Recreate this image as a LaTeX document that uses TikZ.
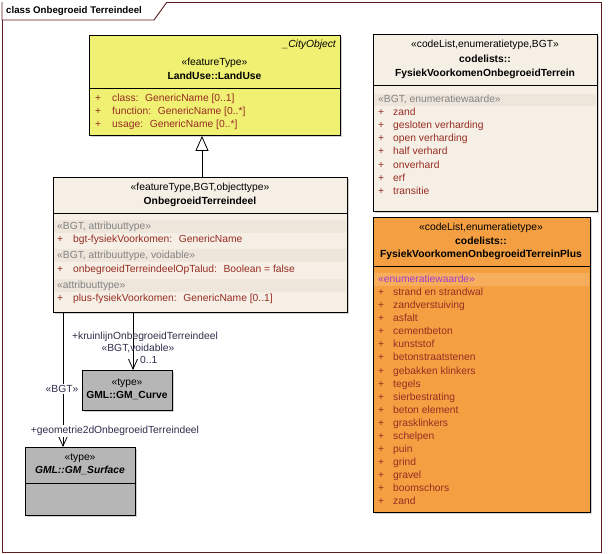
\documentclass[tikz,border=0pt]{standalone}
\usepackage{fontspec}
\setmainfont{Liberation Sans}
\usetikzlibrary{arrows.meta,shadows}
\definecolor{framec}{RGB}{95,30,30}
\definecolor{yel}{RGB}{240,240,115}
\definecolor{beige}{RGB}{246,239,229}
\definecolor{beigeband}{RGB}{238,230,219}
\definecolor{orng}{RGB}{244,160,66}
\definecolor{orngband}{RGB}{247,174,92}
\definecolor{grayb}{RGB}{182,182,182}
\definecolor{attr}{RGB}{150,45,35}
\definecolor{stereo}{RGB}{130,130,130}
\definecolor{purp}{RGB}{165,60,205}
\definecolor{lbl}{RGB}{45,45,75}
\tikzset{
  box/.style={draw=black, line width=0.9pt, inner sep=0pt, anchor=north west,
    drop shadow={shadow xshift=2pt, shadow yshift=-2pt, fill=black!30, opacity=0.6}},
  txt/.style={inner sep=0pt, anchor=mid, font=\fontsize{10.3}{12}\selectfont},
  btxt/.style={txt, font=\fontsize{10.3}{12}\selectfont\bfseries},
  ltxt/.style={txt, anchor=mid west},
  attrtxt/.style={ltxt, text=attr},
  sttxt/.style={ltxt, text=stereo},
  lbltxt/.style={txt, text=lbl},
  conn/.style={line width=0.8pt, black},
}
\begin{document}
\begin{tikzpicture}[x=1pt,y=-1pt]
\useasboundingbox (0,0) rectangle (608,554);
% frame
\node[draw=framec, line width=0.9pt, inner sep=0pt, anchor=north west, minimum width=599pt, minimum height=550pt] (frame) at (2,2) {};
\draw[draw=framec, line width=0.9pt, fill=white] (2,2) -- (2,20) -- (154,20) -- (167,2);
\node[txt, anchor=mid west, font=\fontsize{9.7}{12}\selectfont\bfseries] (title) at (6,11) {class Onbegroeid Terreindeel};

% LandUse
\node[box, fill=yel, minimum width=251pt, minimum height=100pt] (landuse) at (89,35) {};
\draw[line width=0.9pt] (89,88) -- (340,88);
\node[txt, anchor=mid east, font=\fontsize{10.3}{12}\selectfont\itshape] (lu0) at (336,45) {\_CityObject};
\node[txt] (lu1) at (214.5,63) {«featureType»};
\node[btxt] (lu2) at (214.5,77) {LandUse::LandUse};
\node[attrtxt] (lup1) at (95,99) {+};
\node[attrtxt] (lua1) at (112,99) {class:~ GenericName [0..1]};
\node[attrtxt] (lup2) at (95,112) {+};
\node[attrtxt] (lua2) at (112,112) {function:~ GenericName [0..*]};
\node[attrtxt] (lup3) at (95,125) {+};
\node[attrtxt] (lua3) at (112,125) {usage:~ GenericName [0..*]};

% OnbegroeidTerreindeel
\node[box, fill=beige, minimum width=294pt, minimum height=135pt] (onb) at (53,177) {};
\fill[beigeband] (54,220) rectangle (346,233);
\fill[beigeband] (54,249) rectangle (346,262);
\fill[beigeband] (54,279) rectangle (346,292);
\draw[line width=0.9pt] (53,213) -- (347,213);
\node[txt] (on1) at (200,188) {«featureType,BGT,objecttype»};
\node[btxt] (on2) at (200,202) {OnbegroeidTerreindeel};
\node[sttxt] (ons1) at (57,227) {«BGT, attribuuttype»};
\node[attrtxt] (onp1) at (57,240) {+};
\node[attrtxt] (ona1) at (73,240) {bgt-fysiekVoorkomen:~ GenericName};
\node[sttxt] (ons2) at (57,256) {«BGT, attribuuttype, voidable»};
\node[attrtxt] (onp2) at (57,270) {+};
\node[attrtxt] (ona2) at (73,270) {onbegroeidTerreindeelOpTalud:~ Boolean = false};
\node[sttxt] (ons3) at (57,286) {«attribuuttype»};
\node[attrtxt] (onp3) at (57,299) {+};
\node[attrtxt] (ona3) at (73,299) {plus-fysiekVoorkomen:~ GenericName [0..1]};

% top right code list
\node[box, fill=beige, minimum width=224pt, minimum height=177pt] (cl1) at (373,34) {};
\fill[beigeband] (374,94) rectangle (596,106);
\draw[line width=0.9pt] (373,85) -- (597,85);
\node[txt] (c1h1) at (485,45) {«codeList,enumeratietype,BGT»};
\node[btxt] (c1h2) at (485,60) {codelists::};
\node[btxt] (c1h3) at (485,74) {FysiekVoorkomenOnbegroeidTerrein};
\node[sttxt] (c1s) at (378,100) {«BGT, enumeratiewaarde»};
\foreach \t [count=\i] in {zand, gesloten verharding, open verharding, half verhard, onverhard, erf, transitie}{
  \node[attrtxt] (c1p\i) at (378,{113+13.1*(\i-1)}) {+};
  \node[attrtxt] (c1i\i) at (393,{113+13.1*(\i-1)}) {\t};
}

% bottom right code list (orange)
\node[box, fill=orng, minimum width=217pt, minimum height=295pt] (cl2) at (373,217) {};
\fill[orngband] (374,273) rectangle (589,286);
\draw[line width=0.9pt] (373,266) -- (590,266);
\node[txt] (c2h1) at (481,228) {«codeList,enumeratietype»};
\node[btxt] (c2h2) at (481,242) {codelists::};
\node[btxt] (c2h3) at (481,255) {FysiekVoorkomenOnbegroeidTerreinPlus};
\node[ltxt, text=purp] (c2s) at (378,280) {«enumeratiewaarde»};
\foreach \t [count=\i] in {strand en strandwal, zandverstuiving, asfalt, cementbeton, kunststof, betonstraatstenen, gebakken klinkers, tegels, sierbestrating, beton element, grasklinkers, schelpen, puin, grind, gravel, boomschors, zand}{
  \node[attrtxt] (c2p\i) at (378,{293+13.06*(\i-1)}) {+};
  \node[attrtxt] (c2i\i) at (393,{293+13.06*(\i-1)}) {\t};
}

% GM_Curve
\node[box, fill=grayb, minimum width=90pt, minimum height=40pt] (curve) at (82,370) {};
\node[txt] (cu1) at (127,383) {«type»};
\node[btxt] (cu2) at (127,396) {GML::GM\_Curve};

% GM_Surface
\node[box, fill=grayb, minimum width=110pt, minimum height=68pt] (surf) at (25,447) {};
\draw[line width=0.9pt] (25,483) -- (135,483);
\node[txt] (su1) at (80,458) {«type»};
\node[btxt, font=\fontsize{10.3}{12}\selectfont\bfseries\itshape] (su2) at (80,471) {GML::GM\_Surface};

% generalization
\draw[conn, -{Triangle[open, length=15pt, width=13pt, fill=white]}] (202,0 |- onb.north) -- (202,0 |- landuse.south);

% associations
\draw[conn, -{Straight Barb[length=10pt, width=9pt]}] (133,0 |- onb.south) -- (133,0 |- curve.north);
\draw[conn, -{Straight Barb[length=10pt, width=9pt]}] (63,0 |- onb.south) -- (63,0 |- surf.north);

\node[lbltxt] (l1) at (145,337) {+kruinlijnOnbegroeidTerreindeel};
\node[lbltxt] (l2) at (138,349) {«BGT,voidable»};
\node[lbltxt, anchor=mid west] (l3) at (140,361) {0..1};
\node[lbltxt, fill=white, inner sep=1pt] (l4) at (62,390) {«BGT»};
\node[lbltxt, fill=white, inner sep=1pt] (l5) at (115,431) {+geometrie2dOnbegroeidTerreindeel};
\end{tikzpicture}
\end{document}
